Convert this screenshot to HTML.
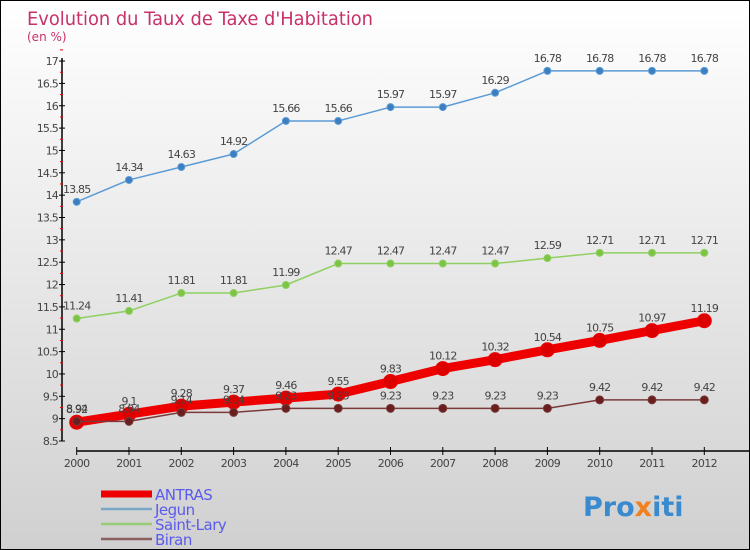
<!DOCTYPE html>
<html><head><meta charset="utf-8"><style>
body{margin:0;}
#wrap{width:750px;height:550px;position:relative;box-sizing:border-box;border:1px solid #000;background:linear-gradient(#ffffff,#d0d0d0);font-family:"DejaVu Sans","Liberation Sans",sans-serif;overflow:hidden}
svg{position:absolute;left:0;top:0}
</style></head><body>
<div id="wrap">
<svg id="s" width="750" height="550">
<text x="26" y="24" font-size="19" fill="#c8306a" textLength="346" lengthAdjust="spacingAndGlyphs">Evolution du Taux de Taxe d'Habitation</text>
<text x="26" y="40" font-size="12" fill="#c8306a">(en %)</text>
</svg>
</div>
<script>
const years=[2000,2001,2002,2003,2004,2005,2006,2007,2008,2009,2010,2011,2012];
const antras=[8.92,9.1,9.28,9.37,9.46,9.55,9.83,10.12,10.32,10.54,10.75,10.97,11.19];
const jegun=[13.85,14.34,14.63,14.92,15.66,15.66,15.97,15.97,16.29,16.78,16.78,16.78,16.78];
const saintLary=[11.24,11.41,11.81,11.81,11.99,12.47,12.47,12.47,12.47,12.59,12.71,12.71,12.71];
const biran=[8.94,8.94,9.14,9.14,9.23,9.23,9.23,9.23,9.23,9.23,9.42,9.42,9.42];
const yTicks=[8.5,9,9.5,10,10.5,11,11.5,12,12.5,13,13.5,14,14.5,15,15.5,16,16.5,17];
const NS='http://www.w3.org/2000/svg';
const s=document.getElementById('s');
const X=i=>75.7+i*52.3;
const Y=v=>440-(v-8.5)*44.7;
function el(t,a,txt){const e=document.createElementNS(NS,t);for(const k in a)e.setAttribute(k,a[k]);if(txt!==undefined)e.textContent=txt;s.appendChild(e);return e;}
// axes
let ax=el('line',{x1:61,y1:57,x2:61,y2:440,stroke:'#000','stroke-width':1.5});


let bx=el('line',{x1:75.7,y1:450,x2:750,y2:450,stroke:'#000','stroke-width':1.5});


yTicks.forEach(v=>{
 el('line',{x1:58,y1:Y(v),x2:64,y2:Y(v),stroke:'#000'});
 el('line',{x1:59,y1:Y(v+0.25),x2:62,y2:Y(v+0.25),stroke:'#e00'});
 const t=el('text',{x:57,y:Y(v)+4,'font-size':11,fill:'#444','text-anchor':'end','letter-spacing':-0.8},String(v));
 
 
});
years.forEach((y,i)=>{
 el('line',{x1:X(i),y1:446,x2:X(i),y2:454,stroke:'#000'});
 const t=el('text',{x:X(i),y:466,'font-size':11,fill:'#444','text-anchor':'middle','letter-spacing':-0.6},String(y));
 
 
});
function series(data,color,dot,w,r,name){
 const p=el('polyline',{points:data.map((v,i)=>X(i)+','+Y(v)).join(' '),fill:'none',stroke:color,'stroke-width':w,'stroke-linejoin':'round'});
 
 
 data.forEach((v,i)=>{
  const c=el('circle',{cx:X(i),cy:Y(v),r:r,fill:dot,stroke:color,'stroke-width':1});
  
  
  const t=el('text',{x:X(i),y:Y(v)-9,'font-size':11,fill:'#444','text-anchor':'middle','letter-spacing':-0.8},String(v));
  
  
 });
}
series(jegun,'#5b9bd5','#3c7fc0',1.5,3.5,'jegun');
series(saintLary,'#8fd060','#7cc444',1.5,3.5,'saint-lary');
series(antras,'#ee0000','#dd0000',9,7,'antras');
series(biran,'#7a3a3a','#6a1e1e',1.5,4,'biran');
// legend
const leg=[['ANTRAS','#ee0000',7],['Jegun','#7ba7c7',2.5],['Saint-Lary','#99cc77',2.5],['Biran','#8a6060',2.5]];
leg.forEach((l,i)=>{
 const y=493+i*15;
 const ln=el('line',{x1:100,y1:y,x2:151,y2:y,stroke:l[1],'stroke-width':l[2]});
 
 
 const t=el('text',{x:154,y:y+6,'font-size':15,fill:'#5a5aee','letter-spacing':-0.5},l[0]);
 
 
});
const logo=el('text',{x:582,y:515,'font-size':27,'font-weight':'bold',fill:'#3a8ad0'},'');


[['Pro','#3a8ad0'],['x','#f08020'],['iti','#3a8ad0']].forEach(p=>{const ts=document.createElementNS(NS,'tspan');ts.setAttribute('fill',p[1]);ts.textContent=p[0];logo.appendChild(ts);});
</script>
</body></html>
